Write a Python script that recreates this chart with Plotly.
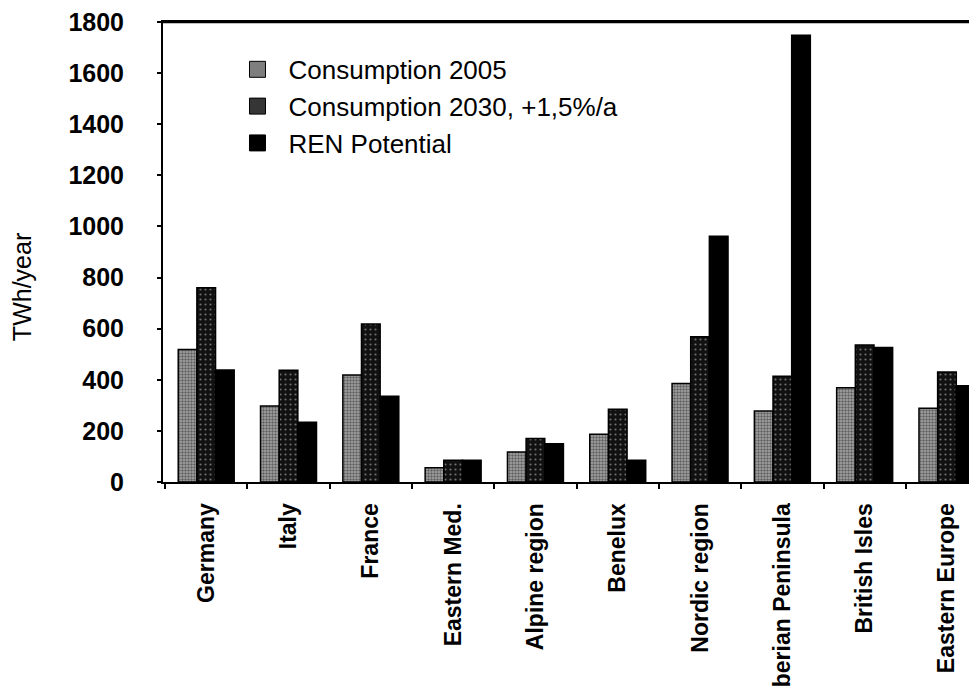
import plotly.graph_objects as go

regions = ["Germany", "Italy", "France", "Eastern Med.", "Alpine region", "Benelux",
           "Nordic region", "Iberian Peninsula", "British Isles", "Eastern Europe"]
consumption_2005 = [518, 297, 419, 56, 117, 187, 385, 278, 369, 289]
consumption_2030 = [760, 437, 618, 85, 170, 285, 568, 414, 536, 430]
ren_potential = [438, 234, 336, 85, 150, 85, 962, 1748, 526, 377]
y_ticks = [0, 200, 400, 600, 800, 1000, 1200, 1400, 1600, 1800]
series_names = ["Consumption 2005", "Consumption 2030, +1,5%/a", "REN Potential"]

FONT = "Liberation Sans, Arial, sans-serif"

fig = go.Figure()
fig.add_trace(go.Bar(
    x=regions, y=consumption_2005, name=series_names[0], showlegend=False,
    marker=dict(color="#7a7a7a", line=dict(color="black", width=1.5),
                pattern=dict(shape=".", fgcolor="#1a1a1a", bgcolor="#a8a8a8", size=3, solidity=0.5)),
))
fig.add_trace(go.Bar(
    x=regions, y=consumption_2030, name=series_names[1], showlegend=False,
    marker=dict(color="#2e2e2e", line=dict(color="black", width=1.5),
                pattern=dict(shape=".", fgcolor="#d0d0d0", bgcolor="#111111", size=5, solidity=0.15)),
))
fig.add_trace(go.Bar(
    x=regions, y=ren_potential, name=series_names[2], showlegend=False,
    marker=dict(color="#000000", line=dict(color="black", width=1.5)),
))
# legend entries (larger square keys, as in the original)
for nm, col in zip(series_names, ["#7e7e7e", "#353535", "#000000"]):
    fig.add_trace(go.Scatter(
        x=[None], y=[None], mode="markers", name=nm,
        marker=dict(symbol="square", size=16, color=col, line=dict(color="black", width=1)),
    ))

fig.update_layout(
    width=969, height=680,
    margin=dict(l=155, r=0, t=14, b=206, autoexpand=False),
    paper_bgcolor="white", plot_bgcolor="white",
    barmode="group", bargap=0.32, bargroupgap=0,
    font=dict(family=FONT, color="black"),
    legend=dict(x=0.078, y=0.948, xanchor="left", yanchor="top", itemwidth=52,
                font=dict(size=26, family=FONT, color="black"),
                bgcolor="rgba(0,0,0,0)", traceorder="normal"),
    showlegend=True,
)
fig.update_xaxes(
    type="category", range=[-0.525, 9.365],
    showline=True, linecolor="black", linewidth=2, mirror=True,
    ticks="outside", tickson="boundaries", ticklen=5, tickcolor="black", tickwidth=1.5,
    tickangle=-90, tickfont=dict(size=23, family=FONT, color="black", weight="bold"),
    ticklabelstandoff=10, ticklabeloverflow="allow", showgrid=False, automargin=False,
)
fig.update_yaxes(
    range=[0, 1800], tickmode="array", tickvals=y_ticks, ticktext=[str(v) for v in y_ticks],
    showline=True, linecolor="black", linewidth=2, mirror=False,
    ticks="outside", ticklen=4, tickcolor="black", tickwidth=1.5,
    tickfont=dict(size=25, family=FONT, color="black", weight="bold"),
    ticklabelstandoff=28, ticklabeloverflow="allow", showgrid=False, zeroline=False, automargin=False,
)
# top frame line of the plot area
fig.add_shape(type="line", xref="paper", yref="paper", x0=0, x1=1, y0=1, y1=1,
              line=dict(color="black", width=2.5), layer="above")
fig.add_annotation(
    text="TWh/year", textangle=-90, xref="paper", yref="paper",
    x=-0.173, y=0.424, xanchor="center", yanchor="middle", showarrow=False,
    font=dict(size=25, family=FONT, color="black"),
)
fig.write_html("out.html")
